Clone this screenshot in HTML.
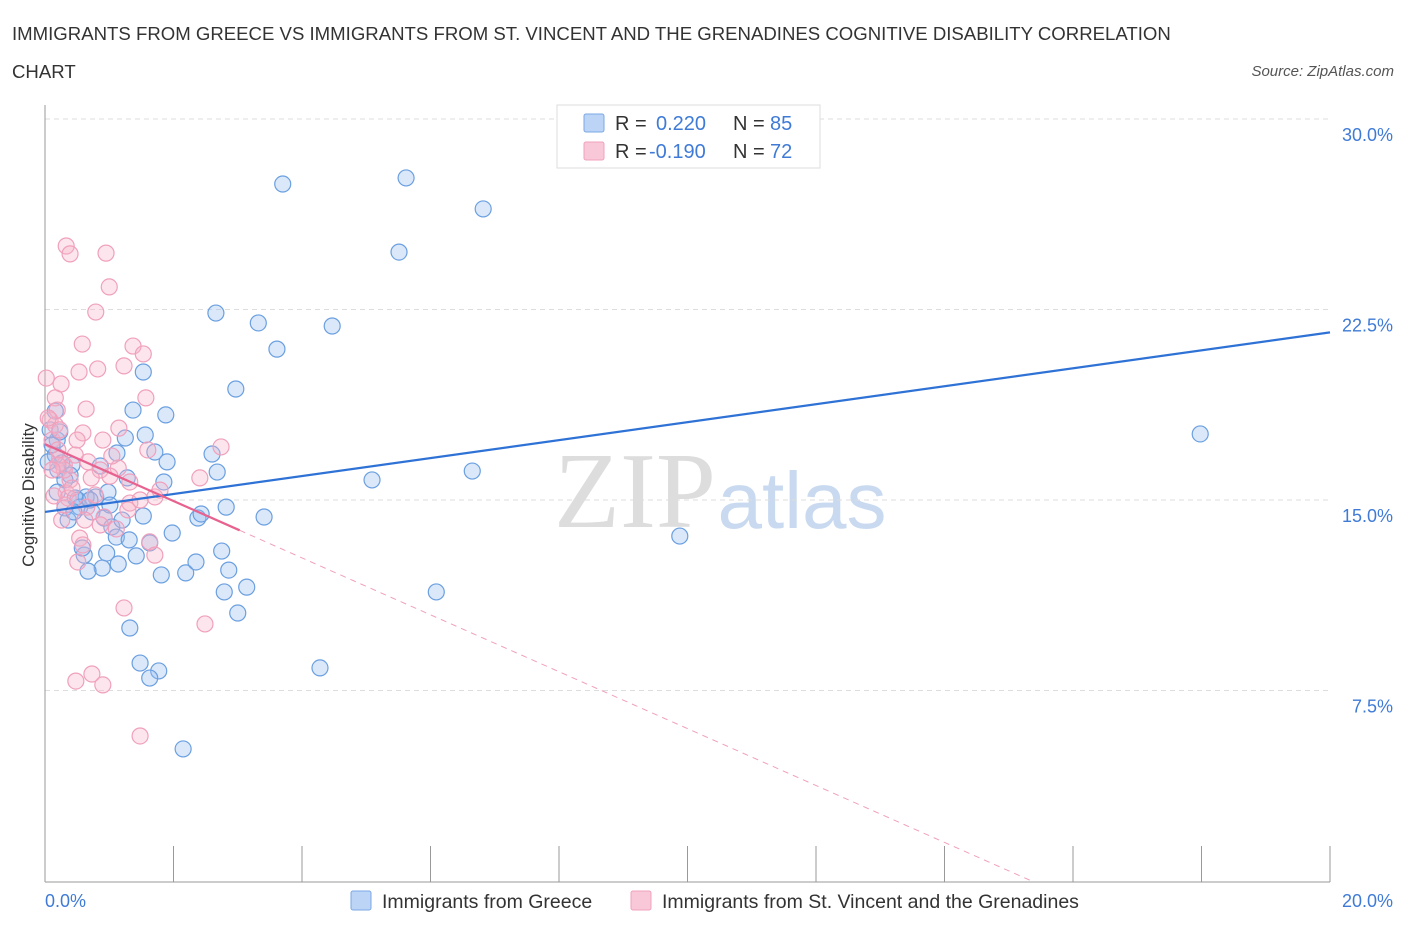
<!DOCTYPE html>
<html><head><meta charset="utf-8">
<style>
body{margin:0;background:#fff;font-family:"Liberation Sans",sans-serif;}
svg{display:block}
</style></head>
<body>
<svg id="chart" width="1406" height="930">
<text x="12" y="40" font-size="18.6" fill="#333">IMMIGRANTS FROM GREECE VS IMMIGRANTS FROM ST. VINCENT AND THE GRENADINES COGNITIVE DISABILITY CORRELATION</text>
<text x="12" y="78" font-size="18.6" fill="#333">CHART</text>
<text x="1394" y="76" font-size="15" fill="#555" font-style="italic" text-anchor="end">Source: ZipAtlas.com</text>
<text x="635" y="527" font-size="108" fill="#ddd" font-family="Liberation Serif,serif" text-anchor="middle">ZIP</text>
<text x="802" y="528" font-size="80" fill="#c9daf0" text-anchor="middle">atlas</text>
<g id="grid"></g>
<g id="axes"></g>
<g id="pts"></g>
<g id="trends"></g>
<text transform="translate(34,495) rotate(-90)" font-size="17" fill="#333" text-anchor="middle">Cognitive Disability</text>
<text x="45" y="907" font-size="18" fill="#3f7bd6">0.0%</text>
<text x="1393" y="907" font-size="18" fill="#3f7bd6" text-anchor="end">20.0%</text>
<g>
<rect x="557" y="105" width="263" height="63" fill="#fff" stroke="#ddd"/>
<rect x="584" y="114" width="20" height="18" fill="#bcd4f5" stroke="#7aa8e6" rx="2"/>
<rect x="584" y="142" width="20" height="18" fill="#f9c8d8" stroke="#f0a0bc" rx="2"/>
<text x="615" y="130" font-size="20" fill="#333">R = </text><text x="656" y="130" font-size="20" fill="#3f7bd6">0.220</text>
<text x="733" y="130" font-size="20" fill="#333">N = </text><text x="770" y="130" font-size="20" fill="#3f7bd6">85</text>
<text x="615" y="158" font-size="20" fill="#333">R = </text><text x="649" y="158" font-size="20" fill="#3f7bd6">-0.190</text>
<text x="733" y="158" font-size="20" fill="#333">N = </text><text x="770" y="158" font-size="20" fill="#3f7bd6">72</text>
</g>
<g>
<rect x="351" y="891" width="20" height="19" fill="#bcd4f5" stroke="#7aa8e6" rx="2"/>
<text x="382" y="908" font-size="19.5" fill="#333">Immigrants from Greece</text>
<rect x="631" y="891" width="20" height="19" fill="#f9c8d8" stroke="#f0a0bc" rx="2"/>
<text x="662" y="908" font-size="19.5" fill="#333">Immigrants from St. Vincent and the Grenadines</text>
</g>
</svg>
<script>
const yTicks=[7.5,15,22.5,30];
const yTickLabels=["7.5%","15.0%","22.5%","30.0%"];
const xTicks=[0,2,4,6,8,10,12,14,16,18,20];
const greeceX=[3.70,5.62,6.82,5.51,2.66,3.32,4.47,3.61,2.97,1.53,1.37,1.88,1.25,1.56,1.71,1.90,2.60,2.68,1.85,1.28,1.12,0.86,0.79,0.98,0.64,0.51,0.54,0.31,0.36,0.73,0.92,1.04,1.20,1.11,1.31,1.42,0.96,1.14,0.89,0.67,0.61,0.58,1.53,1.63,1.98,1.81,2.19,2.35,2.38,2.43,2.82,2.75,2.86,2.79,3.14,3.00,3.41,1.32,1.48,1.77,1.63,2.15,4.28,5.09,6.65,6.09,9.88,17.98,0.16,0.19,0.16,0.26,0.20,0.42,0.08,0.23,0.47,0.39,0.11,0.31,0.05,0.70,1.01,0.19,0.45];
const greeceY=[27.44,27.68,26.46,24.76,22.36,21.97,21.85,20.94,19.37,20.04,18.54,18.35,17.44,17.56,16.89,16.50,16.81,16.10,15.71,15.87,16.85,16.34,15.12,15.31,15.12,15.00,14.72,14.69,14.21,14.53,14.29,13.94,14.21,13.54,13.43,12.80,12.91,12.48,12.32,12.20,12.83,13.11,14.37,13.31,13.70,12.05,12.13,12.56,14.29,14.45,14.72,12.99,12.24,11.38,11.57,10.55,14.33,9.96,8.58,8.27,7.99,5.20,8.39,15.79,16.14,11.38,13.58,17.60,18.50,17.36,16.77,16.46,16.18,16.38,17.76,17.68,15.08,15.98,17.17,15.79,16.50,15.00,14.80,15.31,14.53];
const vincentX=[0.33,0.39,0.95,1.00,0.79,0.58,1.37,1.53,0.53,0.82,1.23,0.25,0.02,0.16,0.64,1.57,1.15,0.90,0.59,0.50,0.08,0.16,0.19,2.74,1.60,0.23,0.30,0.67,0.86,1.14,1.32,1.01,2.41,1.71,1.32,1.29,0.39,0.33,0.36,0.14,0.65,0.92,0.26,1.11,0.54,0.59,1.63,1.71,0.51,1.23,2.49,0.73,0.48,0.90,1.48,0.05,0.11,0.20,0.30,0.42,0.72,1.04,0.23,0.20,0.47,0.11,0.78,1.48,1.79,0.86,0.31,0.62];
const vincentY=[25.00,24.69,24.72,23.39,22.40,21.14,21.06,20.75,20.04,20.16,20.28,19.57,19.80,19.02,18.58,19.02,17.83,17.36,17.64,17.36,18.15,17.95,18.54,17.09,16.97,16.65,16.38,16.50,16.18,16.26,15.71,15.94,15.87,15.12,14.88,14.61,15.79,15.28,15.08,15.16,14.72,14.33,14.21,13.86,13.50,13.23,13.35,12.83,12.56,10.75,10.12,8.15,7.87,7.72,5.71,18.23,17.36,16.97,16.18,15.47,15.87,16.73,17.76,16.38,16.77,16.18,15.20,15.00,15.39,14.02,14.80,14.21];
const greeceTrend=[14.53,21.60];
const vincentTrend=[17.2,-1.12];
const vincentSolidEnd=3.03;

const NS="http://www.w3.org/2000/svg";
const X=v=>45+v*64.25, Y=v=>881-v*25.4;
function mk(tag,attrs,parent){const e=document.createElementNS(NS,tag);for(const k in attrs)e.setAttribute(k,attrs[k]);parent.appendChild(e);return e;}
const grid=document.getElementById('grid'),axes=document.getElementById('axes'),pts=document.getElementById('pts'),tr=document.getElementById('trends');
yTicks.forEach((t,i)=>{
 const l=mk('line',{x1:45,x2:1330,y1:Y(t),y2:Y(t),stroke:'#ddd','stroke-dasharray':'5,4'},grid);
 
 
 const tx=mk('text',{x:1393,y:Y(t)+22,'font-size':18,fill:'#3f7bd6','text-anchor':'end'},grid);
 tx.textContent=yTickLabels[i];
 
 
});
const ya=mk('line',{x1:45,x2:45,y1:105,y2:882,stroke:'#999'},axes);


const xa=mk('line',{x1:45,x2:1330,y1:882,y2:882,stroke:'#999'},axes);


xTicks.forEach(t=>{
 const l=mk('line',{x1:X(t),x2:X(t),y1:846,y2:882,stroke:'#999'},axes);
 
 
});
greeceX.forEach((v,i)=>{
 const c=mk('circle',{cx:X(v),cy:Y(greeceY[i]),r:8,fill:'rgba(150,190,240,0.35)',stroke:'#6a9fe0','stroke-width':1.2},pts);
 
 
});
vincentX.forEach((v,i)=>{
 const c=mk('circle',{cx:X(v),cy:Y(vincentY[i]),r:8,fill:'rgba(245,180,200,0.35)',stroke:'#f0a0bc','stroke-width':1.2},pts);
 
 
});
const bl=mk('line',{x1:X(0),y1:Y(greeceTrend[0]),x2:X(20),y2:Y(greeceTrend[1]),stroke:'#2f72d6','stroke-width':2.2},tr);


const ps=mk('line',{x1:X(0),y1:Y(vincentTrend[0]),x2:X(vincentSolidEnd),y2:Y(vincentTrend[0]+vincentTrend[1]*vincentSolidEnd),stroke:'#e8628f','stroke-width':2.2},tr);


const xz=-vincentTrend[0]/vincentTrend[1];
const pd=mk('line',{x1:X(vincentSolidEnd),y1:Y(vincentTrend[0]+vincentTrend[1]*vincentSolidEnd),x2:X(xz),y2:Y(0),stroke:'#f0a0bc','stroke-width':1,'stroke-dasharray':'6,5'},tr);


</script>
</body></html>
